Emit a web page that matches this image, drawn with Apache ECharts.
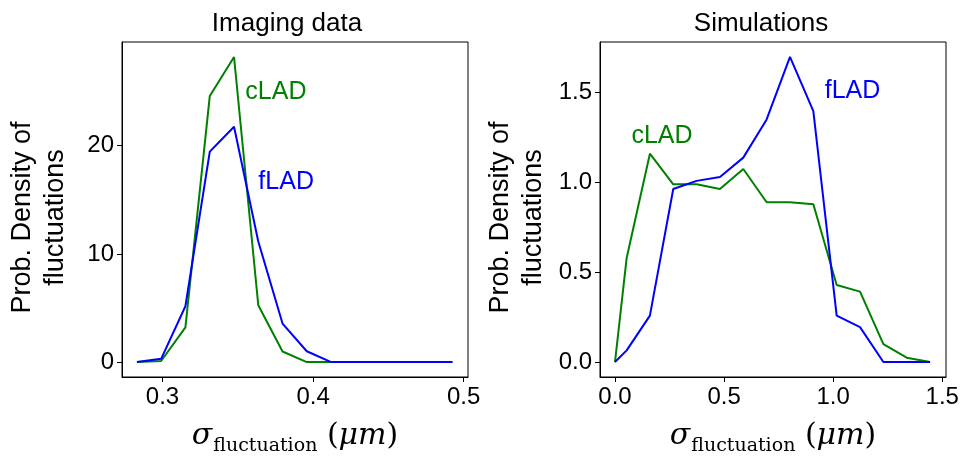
<!DOCTYPE html>
<html>
<head>
<meta charset="utf-8">
<script src="https://cdn.jsdelivr.net/npm/echarts@6/dist/echarts.min.js"></script>
<style>
  html, body { margin: 0; padding: 0; background: #fff; }
  #chart { width: 963px; height: 461px; }
</style>
</head>
<body>
<div id="chart"></div>
<script>
// Bin centres and densities for the imaging data panel
const imagingX = [0.2830, 0.2991, 0.3152, 0.3314, 0.3475, 0.3636, 0.3797,
                  0.3958, 0.4120, 0.4281, 0.4442, 0.4603, 0.4764, 0.4925];
const imagingCLAD = [0, 0.1, 3.2, 24.6, 28.2, 5.25, 0.98, 0, 0, 0, 0, 0, 0, 0];
const imagingFLAD = [0, 0.3, 5.16, 19.45, 21.75, 11.15, 3.56, 1.0, 0, 0, 0, 0, 0, 0];

// Bin centres and densities for the simulations panel
const simX = [0, 0.0535, 0.160, 0.267, 0.374, 0.481, 0.588, 0.695,
              0.802, 0.909, 1.016, 1.123, 1.230, 1.337, 1.444];
const simCLAD = [0, 0.578, 1.157, 0.987, 0.987, 0.961, 1.072, 0.887,
                 0.887, 0.876, 0.428, 0.391, 0.100, 0.024, 0];
const simFLAD = [0, 0.065, 0.258, 0.961, 1.006, 1.028, 1.135, 1.347,
                 1.694, 1.393, 0.258, 0.194, 0, 0, 0];

// Tick values
const imagingXTicks = [0.3, 0.4, 0.5];
const imagingYTicks = [0, 10, 20];
const simXTicks = [0, 0.5, 1.0, 1.5];
const simYTicks = [0, 0.5, 1.0, 1.5];

const GREEN = '#008000';
const BLUE = '#0000ff';
const SANS = 'Liberation Sans, Arial, Helvetica, sans-serif';
const SERIF = 'DejaVu Serif, serif';

const zip = (xs, ys) => xs.map((x, i) => [x, ys[i]]);

const xName = '{s|σ}{sub|fluctuation}{p| (}{i|μm}{p|)}';
const xNameStyle = {
  rich: {
    s: { fontFamily: SERIF, fontStyle: 'italic', fontSize: 30, color: '#000', lineHeight: 34, verticalAlign: 'bottom' },
    sub: { fontFamily: SERIF, fontSize: 19, color: '#000', lineHeight: 26, verticalAlign: 'bottom', padding: [0, 0, -5, 1] },
    p: { fontFamily: SERIF, fontSize: 30, color: '#000', lineHeight: 34, verticalAlign: 'bottom' },
    i: { fontFamily: SERIF, fontStyle: 'italic', fontSize: 30, color: '#000', lineHeight: 34, verticalAlign: 'bottom' }
  }
};

function xAxis(gridIndex, min, max, ticks) {
  return {
    type: 'value', gridIndex, min, max,
    axisLine: { show: true, onZero: false, lineStyle: { color: '#000', width: 1 } },
    axisTick: { show: true, inside: false, length: 5, customValues: ticks, lineStyle: { color: '#000', width: 1 } },
    axisLabel: { customValues: ticks, margin: 8, fontFamily: SANS, fontSize: 24, color: '#000',
                 formatter: v => v.toFixed(1) },
    splitLine: { show: false },
    name: xName, nameLocation: 'middle', nameGap: 40, nameTextStyle: xNameStyle
  };
}

function yAxis(gridIndex, min, max, ticks, fmt) {
  return {
    type: 'value', gridIndex, min, max,
    axisLine: { show: true, onZero: false, lineStyle: { color: '#000', width: 1 } },
    axisTick: { show: true, inside: false, length: 5, customValues: ticks, lineStyle: { color: '#000', width: 1 } },
    axisLabel: { customValues: ticks, margin: 8, fontFamily: SANS, fontSize: 24, color: '#000', formatter: fmt },
    splitLine: { show: false },
    name: 'Prob. Density of\nfluctuations', nameLocation: 'middle', nameRotate: 90, nameGap: 50,
    nameTextStyle: { fontFamily: SANS, fontSize: 27, color: '#000', lineHeight: 33, padding: [0, 16, 0, 0] }
  };
}

function tag(text, color, coord) {
  return {
    symbol: 'circle', symbolSize: 0, silent: true,
    data: [{ coord, value: text }],
    label: { show: true, position: 'inside', formatter: text, color,
             fontFamily: SANS, fontSize: 25, align: 'center', verticalAlign: 'middle' }
  };
}

function line(name, xi, data, color, markPoint) {
  return {
    name, type: 'line', xAxisIndex: xi, yAxisIndex: xi, data,
    showSymbol: false, symbol: 'none', lineStyle: { color, width: 2 }, itemStyle: { color },
    markPoint, z: color === BLUE ? 3 : 2
  };
}

const chart = echarts.init(document.getElementById('chart'), null, { renderer: 'canvas' });
chart.setOption({
  animation: false,
  backgroundColor: '#fff',
  title: [
    { text: 'Imaging data', left: 282, top: 6, textAlign: 'center',
      textStyle: { fontFamily: SANS, fontSize: 26, fontWeight: 'normal', color: '#000' } },
    { text: 'Simulations', left: 756, top: 6, textAlign: 'center',
      textStyle: { fontFamily: SANS, fontSize: 26, fontWeight: 'normal', color: '#000' } }
  ],
  grid: [
    { left: 122, top: 42, width: 346, height: 336, show: true, borderColor: '#000', borderWidth: 1, backgroundColor: 'transparent' },
    { left: 600, top: 42, width: 346, height: 336, show: true, borderColor: '#000', borderWidth: 1, backgroundColor: 'transparent' }
  ],
  xAxis: [
    xAxis(0, 0.2731, 0.50285, imagingXTicks),
    xAxis(1, -0.0687, 1.517, simXTicks)
  ],
  yAxis: [
    yAxis(0, -1.38, 29.585, imagingYTicks, v => String(v)),
    yAxis(1, -0.083, 1.777, simYTicks, v => v.toFixed(1))
  ],
  series: [
    line('cLAD', 0, zip(imagingX, imagingCLAD), GREEN, tag('cLAD', GREEN, [0.3753, 24.95])),
    line('fLAD', 0, zip(imagingX, imagingFLAD), BLUE, tag('fLAD', BLUE, [0.3821, 16.68])),
    line('cLAD', 1, zip(simX, simCLAD), GREEN, tag('cLAD', GREEN, [0.2154, 1.255])),
    line('fLAD', 1, zip(simX, simFLAD), BLUE, tag('fLAD', BLUE, [1.0885, 1.504]))
  ]
});
</script>
</body>
</html>
